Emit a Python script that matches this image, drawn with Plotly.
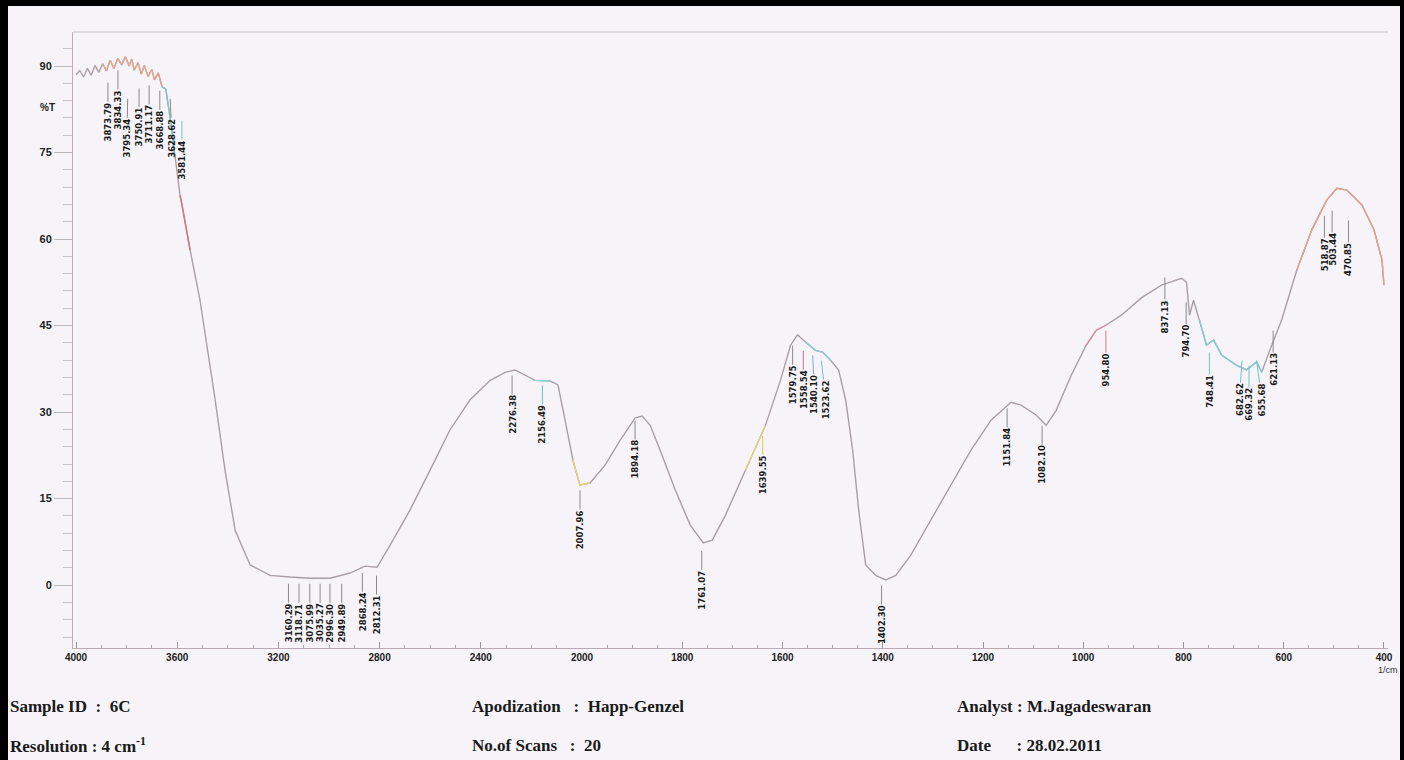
import plotly.graph_objects as go

# ---------------- data ----------------
wavenumber = [4000, 3985, 3970, 3955, 3940, 3925, 3910, 3895, 3880, 3865, 3850, 3835, 3820, 3805,
              3790, 3780, 3770, 3755, 3742, 3730, 3715, 3700, 3690, 3675, 3660, 3645, 3628, 3610,
              3589, 3581, 3549, 3510, 3450, 3411, 3371, 3312, 3233, 3154, 3075, 2996, 2917, 2858,
              2810, 2759, 2680, 2601, 2522, 2443, 2363, 2304, 2265, 2225, 2186, 2126, 2095, 2067,
              2036, 2008, 1984, 1954, 1924, 1894, 1880, 1864, 1844, 1814, 1784, 1758, 1740, 1714,
              1674, 1634, 1604, 1584, 1570, 1554, 1534, 1520, 1504, 1488, 1474, 1460, 1448, 1434,
              1414, 1394, 1374, 1344, 1304, 1264, 1224, 1184, 1144, 1124, 1094, 1074, 1054, 1024,
              994, 974, 954, 924, 884, 844, 804, 794, 788, 780, 768, 754, 740, 724, 694, 674, 654,
              644, 628, 604, 574, 544, 514, 494, 474, 444, 420, 404, 400]
transmittance = [88.5, 89.2, 88.1, 89.6, 88.4, 90.1, 88.9, 90.4, 89.2, 91.0, 89.6, 91.3, 90.2, 91.6,
                 90.0, 91.2, 89.3, 90.6, 88.6, 90.1, 88.2, 89.4, 87.6, 88.8, 86.4, 86.0, 81.0, 74.5,
                 67.6, 65.9, 58.1, 49.4, 32.1, 19.9, 9.5, 3.5, 1.7, 1.4, 1.2, 1.2, 2.1, 3.3,
                 3.1, 6.9, 13.0, 19.9, 26.9, 32.1, 35.5, 36.9, 37.3, 36.4, 35.5, 35.4, 34.7, 28.6,
                 21.7, 17.3, 17.7, 20.8, 25.1, 29.0, 29.3, 27.7, 23.4, 16.5, 10.4, 7.3, 7.8, 12.1,
                 19.9, 27.7, 35.5, 41.6, 43.4, 42.1, 40.7, 40.4, 39.0, 37.3, 32.1, 23.4, 13.0, 3.5,
                 1.7, 0.9, 1.7, 5.2, 11.3, 17.3, 23.4, 28.6, 31.7, 31.2, 29.5, 27.7, 30.3, 36.4,
                 41.6, 44.2, 45.1, 46.8, 49.8, 52.0, 53.2, 52.5, 46.8, 49.4, 46.0, 41.6, 42.5, 39.9,
                 38.1, 37.3, 38.7, 36.9, 40.7, 46.0, 54.6, 61.6, 66.8, 68.8, 68.5, 65.9, 61.6, 56.4, 52.0]

peak_wn = [3873.79, 3834.33, 3795.34, 3750.91, 3711.17, 3668.88, 3628.62, 3581.44,
           3160.29, 3118.71, 3075.99, 3035.27, 2996.30, 2949.89, 2868.24, 2812.31,
           2276.38, 2156.49, 2007.96, 1894.18, 1761.07, 1639.55, 1579.75, 1558.54,
           1540.10, 1523.62, 1402.30, 1151.84, 1082.10, 954.80, 837.13, 794.70,
           748.41, 682.62, 669.32, 655.68, 621.13, 518.87, 503.44, 470.85]
peak_t = [88.0, 90.1, 85.2, 87.0, 87.5, 86.6, 85.2, 81.4,
          1.1, 1.1, 1.1, 1.1, 1.1, 1.1, 3.0, 2.5,
          37.2, 35.5, 17.3, 29.4, 6.8, 26.8, 42.4, 41.5,
          40.7, 39.8, 0.8, 31.5, 28.5, 45.0, 54.2, 49.9,
          41.2, 39.8, 38.9, 39.8, 45.0, 64.9, 65.8, 64.1]

y_ticks = [0, 15, 30, 45, 60, 75, 90]
x_ticks_high = [4000, 3600, 3200, 2800, 2400]
x_ticks_low = [2000, 1800, 1600, 1400, 1200, 1000, 800, 600, 400]

info_left = ["Sample ID  :  6C", "Resolution : 4 cm<sup>-1</sup>"]
info_mid = ["Apodization   :  Happ-Genzel", "No.of Scans   :  20"]
info_right = ["Analyst : M.Jagadeswaran", "Date      : 28.02.2011"]

# ---------------- styling (not data) ----------------
W, H = 1404, 760
L, R, T, B = 73, 16, 32, 112
PW = W - L - R
PH = H - T - B
split = (582 - L) / PW

BG = "#f6f4f8"
CURVE = "#aa9ea8"
# tint of the scanned trace over some wavenumber spans (high, low, colour)
tints = [(3900, 3660, "#e6a78f"), (3660, 3600, "#7fc9c9"), (3600, 3540, "#d9707f"),
         (2190, 2100, "#8fd3d6"), (2050, 1970, "#e3d57a"), (1680, 1630, "#e3d57a"),
         (1560, 1500, "#8cc9dc"), (1000, 950, "#e08ea0"), (770, 640, "#86cfd2"),
         (600, 400, "#e7a08e")]
label_colors = {2156.49: "#6cc6c9", 1639.55: "#d8cc55", 1558.54: "#d06f8f", 1540.10: "#7aa8d8",
                1523.62: "#6cc6c9", 954.80: "#d9758d", 748.41: "#6cc6c9", 682.62: "#6cc6c9",
                669.32: "#6cc6c9", 655.68: "#6cc6c9", 3581.44: "#6cc6c9"}
# sideways pixel nudges of crowded label texts (as the printout spreads them)
label_nudge = {682.62: -3, 655.68: 6, 1540.10: 2, 1523.62: 5, 3795.34: -1, 3628.62: 2}

fig = go.Figure()


def add_curve(lo_lim, hi_lim, color, width):
    for axis, a, b in [("x", 1984, 4001), ("x2", 0, 2008)]:
        pts = [(w, t) for w, t in zip(wavenumber, transmittance)
               if a <= w <= b and lo_lim <= w <= hi_lim]
        if len(pts) < 2:
            continue
        fig.add_trace(go.Scatter(x=[p[0] for p in pts], y=[p[1] for p in pts], mode="lines",
                                 xaxis=axis, yaxis="y", line=dict(color=color, width=width),
                                 hoverinfo="skip", showlegend=False))


add_curve(0, 5000, CURVE, 1.4)
for hi, lo, col in tints:
    add_curve(lo, hi, col, 1.4)

annotations = []
for w, t in zip(peak_wn, peak_t):
    xr = "x" if w > 2000 else "x2"
    annotations.append(dict(
        x=w, y=t, xref=xr, yref="y", text="<b>%.2f</b>" % w, textangle=-90,
        showarrow=True, arrowhead=0, arrowwidth=1, arrowcolor=label_colors.get(w, "#8a8a8a"),
        ax=label_nudge.get(w, 0), ay=44, standoff=5,
        font=dict(family="DejaVu Sans", size=8.5, color="#1a1a1a"),
        borderpad=0))

# %T label and 1/cm
annotations.append(dict(x=(38 - L) / PW, y=(H - B - 100) / PH, xref="paper", yref="paper",
                        text="<b>%T</b>", showarrow=False, xanchor="left",
                        font=dict(family="Liberation Sans", size=10, color="#222")))
annotations.append(dict(x=(1388 - L) / PW, y=(H - B - 677) / PH, xref="paper", yref="paper",
                        text="1/cm", showarrow=False, xanchor="center",
                        font=dict(family="Liberation Sans", size=9, color="#333")))

for col_x, texts in [(8, info_left), (470, info_mid), (955, info_right)]:
    for py, txt in zip([706, 745], texts):
        annotations.append(dict(x=(col_x - L) / PW, y=(H - B - py) / PH, xref="paper", yref="paper",
                                text="<b>%s</b>" % txt, showarrow=False, xanchor="left", yanchor="middle",
                                font=dict(family="Liberation Serif", size=17, color="#1a1a1a")))

axis_common = dict(showgrid=False, zeroline=False, showline=True, linecolor="#b9aab4", linewidth=1,
                   ticks="inside", ticklen=6, tickcolor="#9a9a9a",
                   tickfont=dict(family="Liberation Sans", size=10, color="#222"))

border = "black"
fig.update_layout(
    width=W, height=H, margin=dict(l=L, r=R, t=T, b=B),
    paper_bgcolor=BG, plot_bgcolor=BG,
    xaxis=dict(domain=[0, split], range=[4012, 2000], tickvals=x_ticks_high,
               ticktext=["<b>%d</b>" % v for v in x_ticks_high],
               minor=dict(dtick=100, ticks="inside", ticklen=3, tickcolor="#aaa"),
               anchor="y", **axis_common),
    xaxis2=dict(domain=[split, 1], range=[2000, 392], tickvals=x_ticks_low,
                ticktext=["<b>%d</b>" % v for v in x_ticks_low],
                minor=dict(dtick=50, ticks="inside", ticklen=3, tickcolor="#aaa"),
                anchor="y", **axis_common),
    yaxis=dict(range=[-10.9, 95.9], tickvals=y_ticks, ticktext=["<b>%d</b>" % v for v in y_ticks],
               showgrid=False, zeroline=False, showline=True, linecolor="#c9a6b8", linewidth=1,
               ticks="outside", ticklen=18, tickcolor="#b8b8b8",
               minor=dict(dtick=3, ticks="outside", ticklen=9, tickcolor="#c4c4c4"),
               tickfont=dict(family="Liberation Sans", size=11, color="#222")),
    annotations=annotations,
    shapes=[
        dict(type="line", xref="paper", yref="paper", x0=0, x1=1, y0=1, y1=1,
             line=dict(color="#c8c0c8", width=1)),
        # scan frame: left, top, right black edges
        dict(type="line", xref="paper", yref="paper", x0=(4 - L) / PW, x1=(4 - L) / PW,
             y0=-B / PH - 0.05, y1=1 + T / PH + 0.05, line=dict(color=border, width=8), layer="above"),
        dict(type="line", xref="paper", yref="paper", x0=-L / PW - 0.05, x1=1 + R / PW + 0.05,
             y0=1 + (T - 3) / PH, y1=1 + (T - 3) / PH, line=dict(color=border, width=6), layer="above"),
        dict(type="line", xref="paper", yref="paper", x0=(1402 - L) / PW, x1=(1402 - L) / PW,
             y0=-B / PH - 0.05, y1=1 + T / PH + 0.05, line=dict(color=border, width=4), layer="above"),
    ],
)

fig.write_html("out.html", config={"displayModeBar": False},
               post_script="document.body.style.margin='0';")
